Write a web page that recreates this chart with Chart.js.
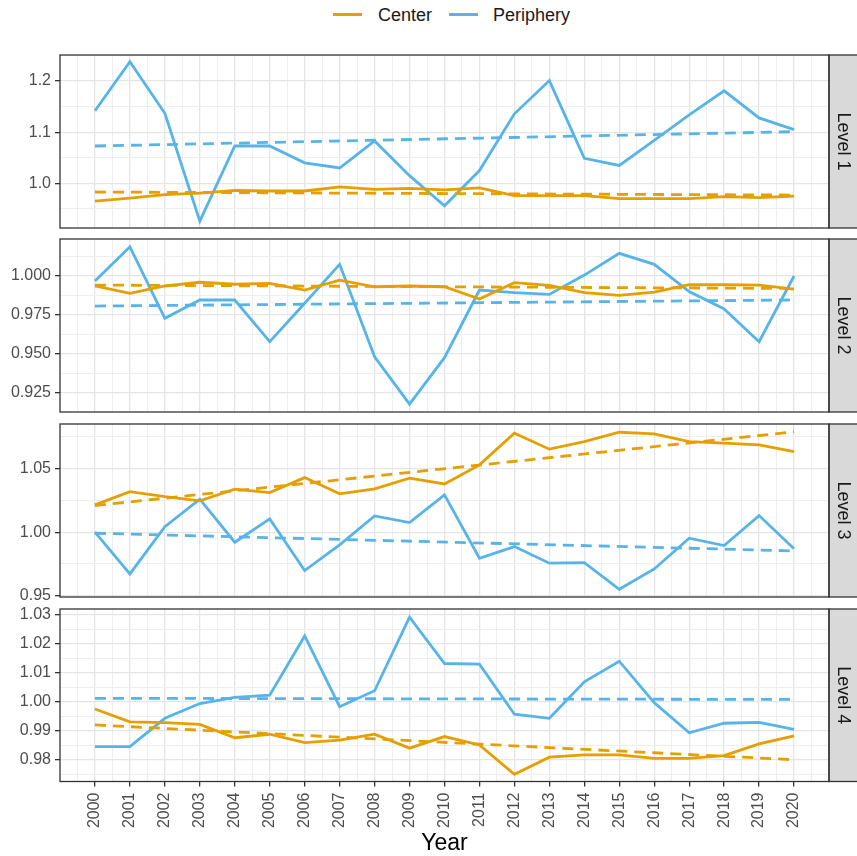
<!DOCTYPE html>
<html><head><meta charset="utf-8">
<script src="https://cdn.jsdelivr.net/npm/chart.js@4.4.1/dist/chart.umd.min.js"></script>
<style>
html,body{margin:0;padding:0;background:#fff;}
#wrap{position:relative;width:857px;height:856px;overflow:hidden;background:#fff;font-family:"Liberation Sans",Arial,Helvetica,sans-serif;}
#wrap canvas{position:absolute;left:0;}
.li{position:absolute;top:5px;font-size:18px;color:#1a1a1a;line-height:20px;white-space:nowrap;}
.sw{position:absolute;height:3px;width:29px;top:13px;}
</style></head>
<body><div id="wrap">
<div class="sw" style="left:333px;background:#E69F00"></div><div class="li" style="left:378px">Center</div>
<div class="sw" style="left:449px;background:#56B4E9"></div><div class="li" style="left:493px">Periphery</div>
</div>
<script>
// ---------------- data ----------------
const years = [2000,2001,2002,2003,2004,2005,2006,2007,2008,2009,2010,2011,2012,2013,2014,2015,2016,2017,2018,2019,2020];
const levels = ['Level 1','Level 2','Level 3','Level 4'];
const seriesNames = ['Center','Periphery'];

const centerL1    = [0.965,0.971,0.978,0.981,0.986,0.985,0.985,0.993,0.988,0.990,0.987,0.991,0.976,0.976,0.976,0.970,0.970,0.970,0.974,0.972,0.975];
const peripheryL1 = [1.142,1.238,1.137,0.926,1.073,1.073,1.040,1.030,1.083,1.015,0.956,1.025,1.136,1.201,1.049,1.035,1.084,1.134,1.181,1.128,1.105];
const centerTrendL1    = [0.983,0.977];   // fitted value at 2000 and 2020
const peripheryTrendL1 = [1.073,1.101];

const centerL2    = [0.9936,0.9889,0.9936,0.9960,0.9947,0.9953,0.9910,0.9974,0.9931,0.9936,0.9931,0.9852,0.9957,0.9940,0.9893,0.9876,0.9897,0.9944,0.9944,0.9942,0.9916];
const peripheryL2 = [0.9968,1.0188,0.9728,0.9846,0.9846,0.9578,0.9825,1.0075,0.9481,0.9177,0.9475,0.9910,0.9893,0.9882,1.0006,1.0146,1.0075,0.9900,0.9788,0.9578,1.0000];
const centerTrendL2    = [0.9942,0.9920];
const peripheryTrendL2 = [0.9807,0.9846];

const centerL3    = [1.0215,1.0320,1.0280,1.0247,1.0339,1.0312,1.0430,1.0302,1.0341,1.0425,1.0380,1.0530,1.0780,1.0654,1.0714,1.0787,1.0774,1.0714,1.0701,1.0688,1.0635];
const peripheryL3 = [1.0000,0.9672,1.0044,1.0260,0.9921,1.0105,0.9698,0.9900,1.0128,1.0076,1.0294,0.9795,0.9887,0.9756,0.9761,0.9551,0.9711,0.9953,0.9895,1.0131,0.9869];
const centerTrendL3    = [1.0210,1.0790];
const peripheryTrendL3 = [0.9992,0.9853];

const centerL4    = [0.9975,0.9931,0.9928,0.9922,0.9876,0.9888,0.9859,0.9868,0.9888,0.9840,0.9880,0.9851,0.9750,0.9809,0.9817,0.9817,0.9805,0.9805,0.9814,0.9855,0.9882];
const peripheryL4 = [0.9845,0.9845,0.9943,0.9994,1.0015,1.0023,1.0227,0.9983,1.0038,1.0292,1.0132,1.0130,0.9957,0.9943,1.0069,1.0140,0.9997,0.9893,0.9926,0.9929,0.9905];
const centerTrendL4    = [0.9920,0.9800];
const peripheryTrendL4 = [1.0012,1.0008];

const yTickLabelsL1 = ['1.0','1.1','1.2'];
const yTickLabelsL2 = ['0.925','0.950','0.975','1.000'];
const yTickLabelsL3 = ['0.95','1.00','1.05'];
const yTickLabelsL4 = ['0.98','0.99','1.00','1.01','1.02','1.03'];
const yRangeL1 = [0.9126,1.251];
const yRangeL2 = [0.9126,1.0238];
const yRangeL3 = [0.949,1.0852];
const yRangeL4 = [0.9725,1.032];
const xTitle = 'Year';

// ---------------- layout / style ----------------
const FONT = '"Liberation Sans", Arial, Helvetica, sans-serif';
const COL = {Center:'#E69F00', Periphery:'#56B4E9'};
const W = 857, H = 856, LEFT = 60, RIGHT = 829;
const panelTops = [55, 239, 424, 609];
const PH = 172.5, PAD = 14;
const LW = 2.8;

const panels = [
  {c:centerL1,p:peripheryL1,ct:centerTrendL1,pt:peripheryTrendL1,ticks:yTickLabelsL1,range:yRangeL1},
  {c:centerL2,p:peripheryL2,ct:centerTrendL2,pt:peripheryTrendL2,ticks:yTickLabelsL2,range:yRangeL2},
  {c:centerL3,p:peripheryL3,ct:centerTrendL3,pt:peripheryTrendL3,ticks:yTickLabelsL3,range:yRangeL3},
  {c:centerL4,p:peripheryL4,ct:centerTrendL4,pt:peripheryTrendL4,ticks:yTickLabelsL4,range:yRangeL4}
];

const near = (a,b) => Math.abs(a-b) < 1e-7;
function gridTicks(majors, min, max){
  const step = majors[1]-majors[0];
  const out = [];
  majors.forEach(m => { [m-step/2, m, m+step/2].forEach(v => {
    if (v >= min-1e-9 && v <= max+1e-9 && !out.some(o=>near(o,v))) out.push(v);
  });});
  return out.sort((a,b)=>a-b);
}

const xMajors = years.slice();
const xAll = gridTicks(xMajors, years[0]-1, years[years.length-1]+1);

const panelDeco = {
  id:'panelDeco',
  afterDraw(chart, args, opts){
    const {ctx, chartArea:a} = chart;
    ctx.save();
    ctx.fillStyle = '#D9D9D9';
    ctx.fillRect(a.right, a.top, W - a.right + 2, a.bottom - a.top);
    ctx.strokeStyle = '#333333'; ctx.lineWidth = 1.3;
    ctx.strokeRect(a.right, a.top, W - a.right + 4, a.bottom - a.top);
    ctx.strokeRect(a.left, a.top, a.right - a.left, a.bottom - a.top);
    ctx.translate((a.right + W)/2, (a.top + a.bottom)/2);
    ctx.rotate(Math.PI/2);
    ctx.fillStyle = '#1A1A1A';
    ctx.font = '18px ' + FONT;
    ctx.textAlign = 'center'; ctx.textBaseline = 'middle';
    ctx.fillText(opts.label, 0, 0);
    ctx.restore();
  }
};

const wrap = document.getElementById('wrap');
panels.forEach((pn, i) => {
  const bottom = i === panels.length - 1;
  const top = panelTops[i] - PAD;
  const ch = bottom ? H - top : PH + 2*PAD;
  const cv = document.createElement('canvas');
  cv.width = W; cv.height = Math.round(ch);
  cv.style.top = top + 'px';
  cv.style.width = W + 'px'; cv.style.height = Math.round(ch) + 'px';
  wrap.appendChild(cv);
  const XH = Math.round(ch) - PAD - PH;

  const yMaj = pn.ticks.map(parseFloat);
  const yAll = gridTicks(yMaj, pn.range[0], pn.range[1]);
  const isYMaj = v => yMaj.some(m => near(m, v));
  const isXMaj = v => xMajors.some(m => near(m, v));
  const pts = arr => years.map((y, k) => ({x:y, y:arr[k]}));
  const trend = arr => [{x:years[0], y:arr[0]}, {x:years[years.length-1], y:arr[1]}];
  const solid = (name, arr) => ({label:name, data:pts(arr), borderColor:COL[name], backgroundColor:COL[name], borderWidth:LW, pointRadius:0, tension:0, fill:false});
  const dashed = (name, arr) => ({label:name + ' trend', data:trend(arr), borderColor:COL[name], borderWidth:LW, borderDash:[11,7], pointRadius:0, fill:false});

  new Chart(cv, {
    type:'line',
    data:{datasets:[
      dashed('Center', pn.ct), dashed('Periphery', pn.pt),
      solid('Center', pn.c), solid('Periphery', pn.p)
    ]},
    plugins:[panelDeco],
    options:{
      responsive:false, animation:false, devicePixelRatio:1,
      layout:{padding:{top:PAD, right:W-RIGHT, bottom: bottom ? 0 : PAD, left:0}},
      plugins:{legend:{display:false}, tooltip:{enabled:false}, panelDeco:{label:levels[i]}},
      scales:{
        x:{
          type:'linear', min:years[0]-1, max:years[years.length-1]+1,
          afterBuildTicks: ax => { ax.ticks = xAll.map(v => ({value:v})); },
          afterFit: ax => { ax.height = bottom ? XH : 0; ax.paddingLeft = 0; ax.paddingRight = 0; },
          border:{display:false},
          grid:{
            color: c => isXMaj(c.tick.value) ? '#E5E5E5' : '#EEEEEE',
            lineWidth: c => isXMaj(c.tick.value) ? 1.3 : 1,
            drawTicks: bottom, tickLength:5, tickWidth:1.3,
            tickColor: c => (c.tick && isXMaj(c.tick.value)) ? '#333333' : 'rgba(0,0,0,0)'
          },
          ticks:{
            display: bottom, autoSkip:false, maxRotation:90, minRotation:90, padding:6,
            color:'#4D4D4D', font:{family:FONT, size:16},
            callback: v => isXMaj(v) ? String(Math.round(v)) : ''
          },
          title: bottom ? {display:true, text:xTitle, color:'#000000', font:{family:FONT, size:23, lineHeight:1}, padding:{top:0, bottom:1}} : {display:false}
        },
        y:{
          type:'linear', min:pn.range[0], max:pn.range[1],
          afterBuildTicks: ax => { ax.ticks = yAll.map(v => ({value:v})); },
          afterFit: ax => { ax.width = LEFT; ax.paddingTop = 0; ax.paddingBottom = 0; },
          border:{display:false},
          grid:{
            color: c => isYMaj(c.tick.value) ? '#E5E5E5' : '#EEEEEE',
            lineWidth: c => isYMaj(c.tick.value) ? 1.3 : 1,
            drawTicks:true, tickLength:5, tickWidth:1.3,
            tickColor: c => (c.tick && isYMaj(c.tick.value)) ? '#333333' : 'rgba(0,0,0,0)'
          },
          ticks:{
            autoSkip:false, padding:4, color:'#4D4D4D', font:{family:FONT, size:16},
            callback: v => { const k = yMaj.findIndex(m => near(m, v)); return k >= 0 ? pn.ticks[k] : ''; }
          }
        }
      }
    }
  });
});
</script>
</body></html>
